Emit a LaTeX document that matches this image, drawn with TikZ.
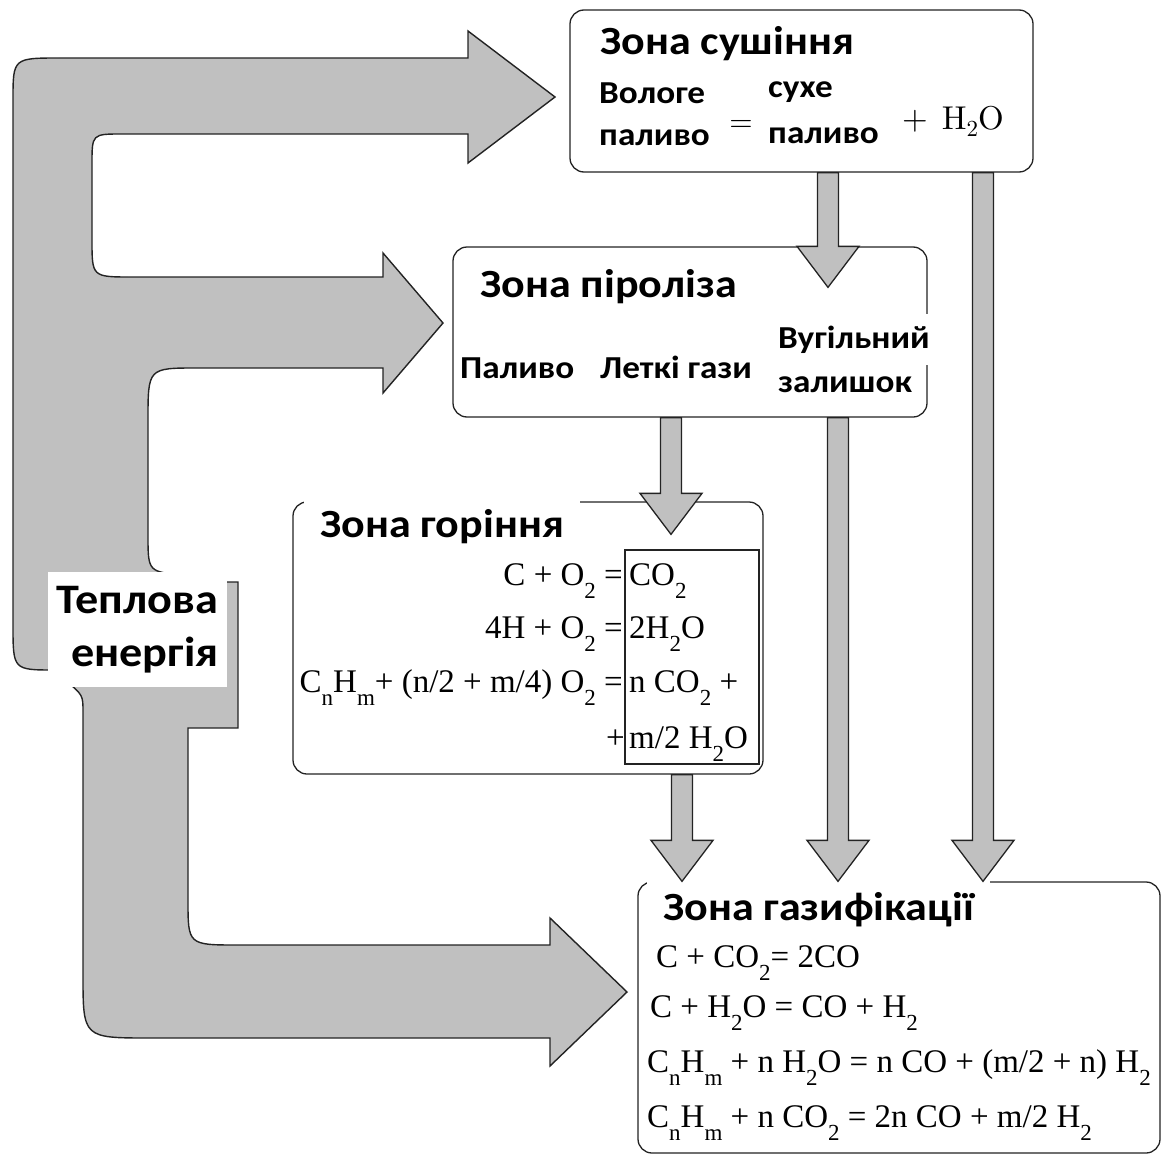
\documentclass[tikz,border=0pt]{standalone}
\usepackage{fontspec}
\setmainfont{Carlito}[FakeStretch=1.1]
\newfontfamily\eqfont{Liberation Serif}
\newfontfamily\lmfont{lmroman10-regular.otf}
\usetikzlibrary{calc}

\definecolor{heatfill}{RGB}{192,192,192}
\definecolor{edge}{RGB}{35,35,35}

% lowered index as in the equation editor
\newcommand{\sbs}[1]{\raisebox{-13pt}{\fontsize{23}{23}\selectfont #1}}

\tikzset{
  zonebox/.style={draw=edge, line width=1.3pt, rounded corners=14pt, fill=white, inner sep=0pt},
  prodbox/.style={draw=edge, line width=1.2pt, inner sep=0pt},
  zonetitle/.style={font=\bfseries\fontsize{40}{48}\selectfont, inner sep=0pt, anchor=base west},
  covertitle/.style={zonetitle, fill=white, inner xsep=16pt, inner ysep=10pt, text height=30pt},
  fuel/.style={font=\bfseries\fontsize{32}{40}\selectfont, inner sep=0pt, anchor=base west},
  heatlabel/.style={fill=white, inner sep=0pt, minimum width=179pt, minimum height=115pt,
    align=right, font=\bfseries\fontsize{42}{53}\selectfont},
  eq/.style={font=\eqfont\fontsize{33}{33}\selectfont, inner sep=0pt},
  heatflow/.style={draw=edge, line width=1.4pt, fill=heatfill, line join=miter},
  blockarrow/.style={draw=edge, line width=1.3pt, fill=heatfill, line join=miter}
}

% gray block arrow from one zone down into another
\newcommand{\feeddown}[4]{%
  \draw[blockarrow] let \p1=(#2.south), \p2=(#3.north) in
    ({#1pt-10.5pt},\y1) -- ({#1pt-10.5pt},{\y2-#4pt+41pt})
    -- ({#1pt-31pt},{\y2-#4pt+41pt}) -- (#1pt,{\y2-#4pt})
    -- ({#1pt+31pt},{\y2-#4pt+41pt}) -- ({#1pt+10.5pt},{\y2-#4pt+41pt})
    -- ({#1pt+10.5pt},\y1) -- cycle;
}

\begin{document}
\begin{tikzpicture}[x=1pt, y=-1pt]
  \useasboundingbox (0,0) rectangle (1165,1156);

  % heat flow
  \draw[heatflow] (13,100) .. controls (13,58) .. (60,58)
    -- (468,58) -- (468,31) -- (555,97) -- (468,163) -- (468,134)
    -- (122,134) .. controls (92,134) .. (92,164)
    -- (92,240) .. controls (92,277) .. (132,277)
    -- (383,277) -- (383,253) -- (443,323) -- (383,393) -- (383,368)
    -- (197,368) .. controls (148,368) .. (148,420)
    -- (148,535) .. controls (148,572) .. (185,575)
    -- (227,582) -- (238,582) -- (238,728) -- (188,728)
    -- (188,900) .. controls (188,945) .. (238,945)
    -- (550,945) -- (550,918) -- (627,992) -- (550,1066) -- (550,1038)
    -- (150,1038) .. controls (83,1038) .. (83,975)
    -- (83,712) .. controls (83,695) .. (65,680)
    -- (60,670) -- (55,670) .. controls (13,670) .. (13,625)
    -- cycle;
  \node[heatlabel] (heat) at (137.5,629.5) {Теплова\\енергія};

  % zones
  \node[zonebox, minimum width=463pt, minimum height=162pt] (dry) at (801.5,91) {};
  \node[zonebox, minimum width=474pt, minimum height=170pt] (pyro) at (690,332) {};
  \node[zonebox, minimum width=470pt, minimum height=272pt] (comb) at (528,638) {};
  \node[zonebox, minimum width=522pt, minimum height=271pt] (gas) at (899,1017.5) {};
  \node[prodbox, minimum width=134pt, minimum height=214pt] (prod) at (692,657) {};

  \node[zonetitle] (drytitle) at (600,55) {Зона сушіння};
  \node[zonetitle] (pyrotitle) at (480,297) {Зона піроліза};
  \node[covertitle] (combtitle) at (304,537) {Зона горіння};
  \node[covertitle] (gastitle) at (647,920) {Зона газифікації};

  % drying
  \node[fuel] (wet1) at (599,103) {Вологе};
  \node[fuel] (wet2) at (599,145) {паливо};
  \node[font=\lmfont\fontsize{30}{30}\selectfont, inner sep=0pt, anchor=base] (dryeq) at (741,131) {=};
  \node[fuel] (dry1) at (768,98) {сухе};
  \node[fuel] (dry2) at (768,143) {паливо};
  \node[font=\lmfont\fontsize{33}{33}\selectfont, inner sep=0pt, anchor=base west] (water) at (902,129)
    {+\hspace{14pt}H\raisebox{-7pt}{\fontsize{23}{23}\selectfont 2}O};

  % pyrolysis
  \node[fuel] (fuel) at (460,378) {Паливо};
  \node[fuel] (volatile) at (600,378) {Леткі гази};
  \node[fuel, fill=white, inner xsep=3pt, inner ysep=12pt] (char1) at (775,348) {Вугільний};
  \node[fuel, fill=white, inner xsep=3pt, inner ysep=12pt] (char2) at (775,392) {залишок};

  % combustion
  \node[eq, anchor=base east] (burn1) at (623,585) {C + O\sbs{2} =};
  \node[eq, anchor=base west] (burn1r) at (629,585) {CO\sbs{2}};
  \node[eq, anchor=base east] (burn2) at (623,638) {4H + O\sbs{2} =};
  \node[eq, anchor=base west] (burn2r) at (629,638) {2H\sbs{2}O};
  \node[eq, anchor=base east] (burn3) at (623,692) {C\sbs{n}H\sbs{m}+ (n/2 + m/4) O\sbs{2} =};
  \node[eq, anchor=base west] (burn3r) at (629,692) {n CO\sbs{2} +};
  \node[eq, anchor=base east] (burn4) at (625,748) {+};
  \node[eq, anchor=base west] (burn4r) at (629,748) {m/2 H\sbs{2}O};

  % gasification
  \node[eq, anchor=base west] (gas1) at (656,967) {C + CO\sbs{2}= 2CO};
  \node[eq, anchor=base west] (gas2) at (650,1017) {C + H\sbs{2}O = CO + H\sbs{2}};
  \node[eq, anchor=base west] (gas3) at (647,1072) {C\sbs{n}H\sbs{m} + n H\sbs{2}O = n CO + (m/2 + n) H\sbs{2}};
  \node[eq, anchor=base west] (gas4) at (647,1127) {C\sbs{n}H\sbs{m} + n CO\sbs{2} = 2n CO + m/2 H\sbs{2}};

  \foreach \ax/\src/\dst/\tip in {828/dry/pyro/41, 983/dry/gas/0, 671/pyro/comb/33,
                                  838/pyro/gas/0, 682/comb/gas/0}
    {\feeddown{\ax}{\src}{\dst}{\tip}}
\end{tikzpicture}
\end{document}
